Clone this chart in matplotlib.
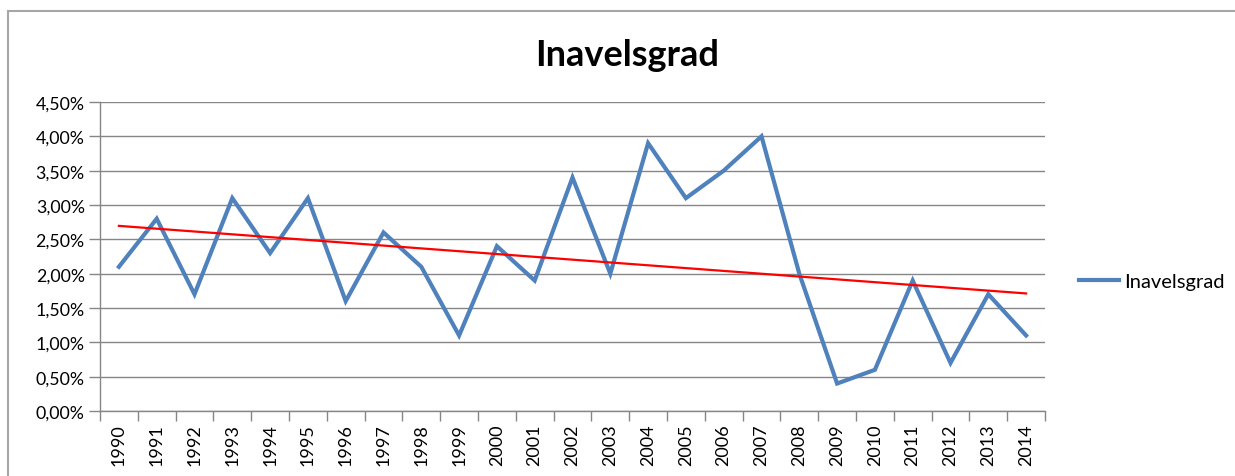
import numpy as np
import matplotlib
matplotlib.use("Agg")
from matplotlib import pyplot as plt
from matplotlib.patches import Rectangle
from matplotlib.ticker import FuncFormatter, MultipleLocator

YEARS = [str(y) for y in range(1990, 2015)]
RATE = [2.1, 2.8, 1.7, 3.1, 2.3, 3.1, 1.6, 2.6, 2.1, 1.1, 2.4, 1.9, 3.4, 2.0,
        3.9, 3.1, 3.5, 4.0, 2.0, 0.4, 0.6, 1.9, 0.7, 1.7, 1.1]  # percent
SERIES = "Inavelsgrad"

GRID = '#868686'
BLUE = '#4F81BD'

plt.rcParams['font.family'] = ['Lato', 'DejaVu Sans']

fig = plt.figure(figsize=(12.35, 4.77), dpi=100)
ax = fig.add_axes([100/1235, 1-412/477, 945/1235, 309/477])

x = np.arange(len(YEARS))
ax.plot(x, RATE, color=BLUE, lw=3.0, solid_joinstyle='miter', label=SERIES, zorder=3)

# linear trendline, like excel's
k, m = np.polyfit(x, RATE, 1)
ax.plot(x, k*x + m, color='red', lw=1.6, zorder=4)

ax.set_xlim(-0.5, len(YEARS)-0.5)
ax.set_ylim(0, 4.5)
ax.yaxis.set_major_locator(MultipleLocator(0.5))
ax.yaxis.set_major_formatter(FuncFormatter(lambda v, p: ('%.2f%%' % v).replace('.', ',')))
ax.grid(axis='y', color=GRID, lw=1.0)
ax.set_axisbelow(True)

ax.set_xticks(x)
ax.set_xticklabels(YEARS, rotation=90, fontsize=13)
ax.set_xticks(np.arange(len(YEARS)+1) - 0.5, minor=True)
ax.tick_params(axis='x', which='major', length=0, pad=9)
ax.tick_params(axis='x', which='minor', length=7, color=GRID, width=1.0)
ax.tick_params(axis='y', length=8, color=GRID, width=1.0, labelsize=12.8, pad=3)

for s in ['top', 'right']:
    ax.spines[s].set_visible(False)
for s in ['left', 'bottom']:
    ax.spines[s].set_color(GRID)
    ax.spines[s].set_linewidth(1.0)

fig.text(627/1235, 1-55/477, SERIES, ha='center', va='center', fontsize=26, fontweight='bold')

leg = fig.legend(loc='center left', bbox_to_anchor=(1061/1235, 1-282/477), frameon=False,
                 fontsize=14.5, handlelength=2.0, handletextpad=0.25)

# chart frame
fig.patches.append(Rectangle((8/1235, -0.2), 1.2, 1.2 + (1-12/477) - 1, transform=fig.transFigure,
                             fill=False, edgecolor='#A6A6A6', lw=1.5))

fig.savefig('out.png', dpi=100, facecolor='white')
